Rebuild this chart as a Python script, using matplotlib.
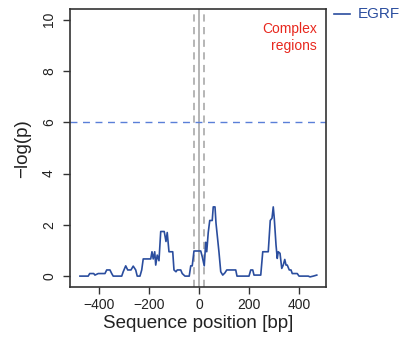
import matplotlib
matplotlib.use("Agg")
import matplotlib.pyplot as plt
from matplotlib.lines import Line2D

pos = [-476, -443, -437, -421, -416, -403, -376, -369, -356, -349, -343, -309, -303, -293, -285,
       -272, -263, -253, -247, -236, -229, -223, -193, -188, -183, -177, -173, -167, -160, -153,
       -139, -132, -127, -120, -105, -100, -92, -87, -73, -67, -56, -39, -33, -27, -20, 7, 13,
       21, 27, 31, 37, 43, 53, 57, 64, 68, 80, 87, 95, 104, 111, 147, 152, 200, 207, 215, 220,
       247, 255, 277, 285, 292, 297, 301, 308, 313, 317, 324, 331, 337, 343, 348, 353, 361, 368,
       373, 393, 400, 437, 444, 457, 471]
logp = [0.0, 0.0, 0.1, 0.1, 0.04, 0.1, 0.1, 0.24, 0.24, 0.1, 0.0, 0.0, 0.17, 0.4, 0.24,
        0.24, 0.39, 0.24, 0.0, 0.0, 0.24, 0.67, 0.67, 0.95, 0.67, 0.95, 0.43, 0.82, 0.6, 1.74,
        1.74, 1.35, 1.7, 0.95, 0.95, 0.24, 0.17, 0.24, 0.24, 0.1, 0.0, 0.0, 0.4, 0.4, 0.98, 0.98, 0.76,
        0.4, 1.32, 0.95, 1.7, 2.17, 2.17, 2.7, 2.7, 2.07, 0.93, 0.17, 0.04, 0.13, 0.24, 0.24, 0.0, 0.0, 0.24, 0.24, 0.04,
        0.04, 0.95, 0.95, 2.17, 2.26, 2.7, 2.26, 1.22, 0.69, 0.95, 0.89, 0.3, 0.43, 0.65, 0.43, 0.43, 0.24, 0.24,
        0.1, 0.1, 0.0, 0.0, -0.03, 0.0, 0.04]
xticks = [-400, -200, 0, 200, 400]
yticks = [0, 2, 4, 6, 8, 10]
threshold = 6
center = 0
region = [-20, 20]
series_name = "EGRF"

plt.rcParams['font.family'] = ['Liberation Sans', 'DejaVu Sans']
fig = plt.figure(figsize=(4.02, 3.39), dpi=100)
ax = fig.add_axes([0.174, 0.153, 0.637, 0.819])

ax.axvline(center, color='#b0b0b0', lw=1.3, zorder=1)
for r in region:
    ax.axvline(r, color='#b0b0b0', lw=1.3, ls=(0, (4, 3)), zorder=1)
ax.axhline(threshold, color='#5a7fd8', lw=1.0, ls=(0, (5, 4)), zorder=1)
ax.plot(pos, logp, color='#2a4d9e', lw=1.2, zorder=3)

ax.set_xlim(-516, 508)
ax.set_ylim(-0.43, 10.4)
ax.set_xticks(xticks)
ax.set_xticklabels([str(t).replace('-', '\u2212') for t in xticks])
ax.set_yticks(yticks)
ax.set_yticklabels([str(t) for t in yticks], rotation=90, va='center')
ax.tick_params(labelsize=10, length=5, width=1, color='#333333', labelcolor='#222222')
ax.tick_params(axis='y', pad=5)
ax.tick_params(axis='x', pad=3)
for s in ax.spines.values():
    s.set_color('#333333')
    s.set_linewidth(1.2)

ax.set_xlabel('Sequence position [bp]', fontsize=13.5, color='#222222', labelpad=2)
ax.set_ylabel('\u2212log(p)', fontsize=13.5, color='#222222', labelpad=8)

ax.text(0.965, 0.955, 'Complex\nregions', transform=ax.transAxes, ha='right', va='top',
        color='#e8281e', fontsize=10, linespacing=1.25)

fig.add_artist(Line2D([334 / 402, 350 / 402], [1 - 14 / 339, 1 - 14 / 339],
                      transform=fig.transFigure, color='#2a4d9e', lw=1.2))
fig.text(358 / 402, 1 - 14 / 339, series_name, color='#2a4d9e', fontsize=11, ha='left', va='center')

fig.savefig('out.png', dpi=100, facecolor='white')
